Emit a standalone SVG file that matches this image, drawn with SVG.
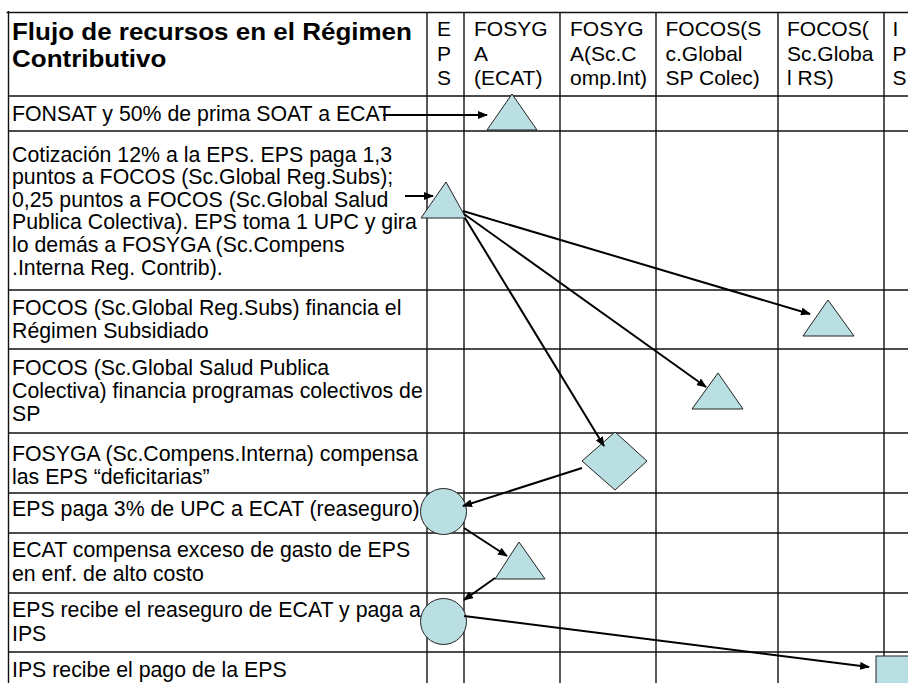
<svg xmlns="http://www.w3.org/2000/svg" width="908" height="683" viewBox="0 0 908 683">
<style>
text{font-family:"Liberation Sans",Arial,sans-serif;font-size:21.3px;fill:#000}
.hd{font-size:21px}
.title{font-weight:bold;font-size:23.5px}
.grid line{stroke:#111;stroke-width:1.4}
.border{stroke:#000;stroke-width:3}
.shape{fill:#B9DFE2;stroke:#222;stroke-width:1}
.conn line{stroke:#000;stroke-width:2;marker-end:url(#ah)}
</style>
<defs>
<marker id="ah" viewBox="0 0 10 8" refX="9" refY="4" markerWidth="10" markerHeight="8" markerUnits="userSpaceOnUse" orient="auto">
<path d="M0,0 L10,4 L0,8 z" fill="#000"/>
</marker>
</defs>
<rect width="908" height="683" fill="#fff"/>
<g id="grid" class="grid">
<line x1="427" y1="12" x2="427" y2="683"/>
<line x1="464" y1="12" x2="464" y2="683"/>
<line x1="560" y1="12" x2="560" y2="683"/>
<line x1="656" y1="12" x2="656" y2="683"/>
<line x1="778" y1="12" x2="778" y2="683"/>
<line x1="884" y1="12" x2="884" y2="683"/>
<line x1="8" y1="96" x2="908" y2="96"/>
<line x1="8" y1="131" x2="908" y2="131"/>
<line x1="8" y1="290" x2="908" y2="290"/>
<line x1="8" y1="349" x2="908" y2="349"/>
<line x1="8" y1="433" x2="908" y2="433"/>
<line x1="8" y1="493" x2="908" y2="493"/>
<line x1="8" y1="533" x2="908" y2="533"/>
<line x1="8" y1="593" x2="908" y2="593"/>
<line x1="8" y1="652" x2="908" y2="652"/>
<line class="border" x1="6.5" y1="12.5" x2="908" y2="12.5"/>
<line class="border" x1="8.5" y1="11" x2="8.5" y2="683"/>
</g>
<g id="header">
<g transform="translate(12,0) scale(1.106,1)">
<text class="title" x="0" y="40.5">Flujo de recursos en el Régimen</text>
<text class="title" x="0" y="67">Contributivo</text>
</g>
<text class="hd" x="437" y="36">E</text><text class="hd" x="437" y="60.5">P</text><text class="hd" x="437" y="85">S</text>
<text class="hd" x="474" y="36">FOSYG</text><text class="hd" x="474" y="60.5">A</text><text class="hd" x="474" y="85">(ECAT)</text>
<text class="hd" x="570" y="36">FOSYG</text><text class="hd" x="570" y="60.5">A(Sc.C</text><text class="hd" x="570" y="85">omp.Int)</text>
<text class="hd" x="665.5" y="36">FOCOS(S</text><text class="hd" x="665.5" y="60.5">c.Global</text><text class="hd" x="665.5" y="85">SP Colec)</text>
<text class="hd" x="787" y="36">FOCOS(</text><text class="hd" x="787" y="60.5">Sc.Globa</text><text class="hd" x="787" y="85">l RS)</text>
<text class="hd" x="892.5" y="36">I</text><text class="hd" x="892.5" y="60.5">P</text><text class="hd" x="892.5" y="85">S</text>
</g>
<g id="rows">
<text x="12" y="121">FONSAT y 50% de prima SOAT a ECAT</text>
<text x="12" y="161.5">Cotización 12% a la EPS. EPS paga 1,3</text>
<text x="12" y="184">puntos a FOCOS (Sc.Global Reg.Subs);</text>
<text x="12" y="206.7">0,25 puntos a FOCOS (Sc.Global Salud</text>
<text x="12" y="229.3">Publica Colectiva). EPS toma 1 UPC y gira</text>
<text x="12" y="252">lo demás a FOSYGA (Sc.Compens</text>
<text x="12" y="274.5">.Interna Reg. Contrib).</text>
<text x="12" y="315">FOCOS (Sc.Global Reg.Subs) financia el</text>
<text x="12" y="338">Régimen Subsidiado</text>
<text x="12" y="375">FOCOS (Sc.Global Salud Publica</text>
<text x="12" y="398">Colectiva) financia programas colectivos de</text>
<text x="12" y="421">SP</text>
<text x="12" y="460.5">FOSYGA (Sc.Compens.Interna) compensa</text>
<text x="12" y="483.5">las EPS “deficitarias”</text>
<text x="12" y="515.5">EPS paga 3% de UPC a ECAT (reaseguro)</text>
<text x="12" y="557">ECAT compensa exceso de gasto de EPS</text>
<text x="12" y="581">en enf. de alto costo</text>
<text x="12" y="616.5">EPS recibe el reaseguro de ECAT y paga a</text>
<text x="12" y="641">IPS</text>
<text x="12" y="676.5">IPS recibe el pago de la EPS</text>
</g>
<g id="node-ecat1"><polygon class="shape" points="512,94 487,130 537,130"/></g>
<g id="node-eps1"><polygon class="shape" points="446,182 421,218 466,218"/></g>
<g id="node-focos-rs"><polygon class="shape" points="828,300 803,336 854,336"/></g>
<g id="node-focos-sp"><polygon class="shape" points="718,373 692,409 743,409"/></g>
<g id="node-fosyga-int"><polygon class="shape" points="615,432 647,461 615,490 582,461"/></g>
<g id="node-eps2"><circle class="shape" cx="443.5" cy="511.5" r="23"/></g>
<g id="node-ecat2"><polygon class="shape" points="519,542 495,579 545,579"/></g>
<g id="node-eps3"><circle class="shape" cx="443.5" cy="621.5" r="23"/></g>
<g id="node-ips"><rect class="shape" x="876" y="656" width="40" height="40"/></g>
<g id="connectors" class="conn">
<line x1="383" y1="115" x2="487" y2="115"/>
<line x1="405" y1="196" x2="433" y2="196"/>
<line x1="463" y1="211" x2="810" y2="314"/>
<line x1="464" y1="214" x2="706" y2="387"/>
<line x1="465" y1="218" x2="604" y2="446"/>
<line x1="582" y1="468" x2="463" y2="506"/>
<line x1="464" y1="528" x2="507" y2="556"/>
<line x1="495" y1="578" x2="464" y2="600"/>
<line x1="464" y1="616" x2="869" y2="667"/>
</g>
</svg>
